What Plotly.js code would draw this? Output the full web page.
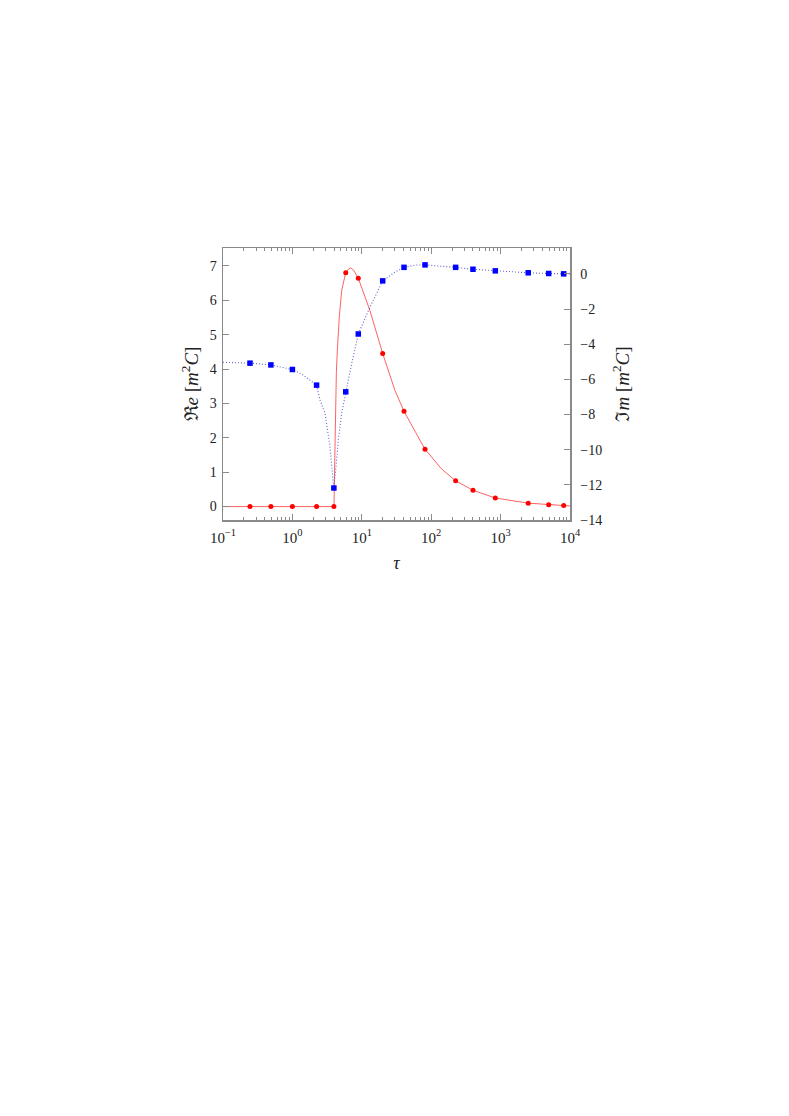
<!DOCTYPE html>
<html>
<head>
<meta charset="utf-8">
<script src="https://cdn.plot.ly/plotly-3.0.1.min.js"></script>
<style>
  body { margin: 0; background: #fff; }
  #grafico { width: 789px; height: 1116px; }
</style>
</head>
<body>
<div id="grafico"></div>
<script>
// puntos marcados (tau compartido)
const tauPuntos = [0.245, 0.49, 1.0, 2.23, 3.96, 5.87, 8.9, 20, 40.6, 81.5, 225, 400, 839, 2500, 4930, 8110];
const rePuntos = [0, 0, 0, 0, 0, 6.80, 6.64, 4.45, 2.77, 1.67, 0.75, 0.475, 0.25, 0.10, 0.05, 0.03];
const imPuntos = [-5.08, -5.18, -5.44, -6.33, -12.18, -6.71, -3.42, -0.40, 0.37, 0.51, 0.37, 0.26, 0.17, 0.06, 0.02, 0.0];

// curvas
const tauRe = [0.1, 0.245, 0.49, 1, 2.23, 3.98, 4.03, 4.1, 4.2, 4.3, 4.44, 4.74, 5.13, 5.86, 6.4, 6.92, 7.6, 8.9, 13.1, 20, 30, 40.6, 60, 81.5, 140, 225, 400, 839, 2500, 4930, 8110, 10000];
const reCurva = [0, 0, 0, 0, 0, 0, 0.8, 1.8, 2.9, 3.9, 4.54, 5.51, 6.28, 6.80, 6.90, 6.94, 6.88, 6.64, 5.70, 4.45, 3.38, 2.77, 2.15, 1.67, 1.1, 0.75, 0.475, 0.25, 0.10, 0.05, 0.03, 0.02];

const tauIm = [0.1, 0.245, 0.49, 1.0, 1.44, 2.22, 2.5, 2.95, 3.48, 3.77, 3.94, 4.25, 4.59, 5.13, 5.88, 7.15, 8.9, 13.1, 20, 30, 40.6, 60, 81.5, 140, 225, 400, 839, 2500, 4930, 8110, 10000];
const imCurva = [-5.03, -5.08, -5.18, -5.44, -5.76, -6.33, -7.18, -7.93, -9.82, -11.14, -12.18, -10.96, -9.44, -7.93, -6.71, -5.10, -3.42, -1.89, -0.40, 0.1, 0.37, 0.5, 0.51, 0.45, 0.37, 0.26, 0.17, 0.06, 0.02, 0.0, 0.0];

// etiquetas del eje tau
const tauTicks = [0.1, 1, 10, 100, 1000, 10000];
const tauEtiquetas = ['10<sup>−1</sup>', '10<sup>0</sup>', '10<sup>1</sup>', '10<sup>2</sup>', '10<sup>3</sup>', '10<sup>4</sup>'];

const familia = '"Liberation Serif", "Times New Roman", "DejaVu Serif", serif';
const fuente = { family: familia, size: 14, color: '#222' };
const gris = '#8a8a8a';

const data = [
    {
        x: tauRe, y: reCurva, mode: 'lines', type: 'scatter',
        line: { color: 'rgba(255,70,70,0.85)', width: 1 }, hoverinfo: 'skip'
    },
    {
        x: tauIm, y: imCurva, yaxis: 'y2', mode: 'lines', type: 'scatter',
        line: { color: 'rgba(60,60,200,0.8)', width: 1.1, dash: '1px,2px' }, hoverinfo: 'skip'
    },
    {
        x: tauPuntos, y: rePuntos, mode: 'markers', type: 'scatter',
        marker: { color: '#ff0000', size: 5, symbol: 'circle' }
    },
    {
        x: tauPuntos, y: imPuntos, yaxis: 'y2', mode: 'markers', type: 'scatter',
        marker: { color: '#0000ff', size: 5.5, symbol: 'square' }
    }
];

const layout = {
    width: 789,
    height: 1116,
    showlegend: false,
    paper_bgcolor: '#fff',
    plot_bgcolor: '#fff',
    margin: { l: 223, r: 219, t: 248, b: 596 },
    font: fuente,
    xaxis: {
        type: 'log',
        range: [-1, 4],
        tickvals: tauTicks,
        ticktext: tauEtiquetas,
        showgrid: false,
        zeroline: false,
        showline: true,
        linecolor: gris,
        linewidth: 1.5,
        mirror: 'ticks',
        ticks: 'inside',
        ticklen: 6,
        tickcolor: gris,
        ticklabelstandoff: 3,
        minor: { ticks: 'inside', ticklen: 3, tickcolor: gris, dtick: 'D1', showgrid: false },
        tickfont: { family: familia, size: 15, color: '#222' },
        title: { text: '<i>τ</i>', font: { family: familia, size: 18, color: '#222' }, standoff: 12 }
    },
    yaxis: {
        range: [-0.39, 7.52],
        dtick: 1,
        showgrid: false,
        zeroline: false,
        showline: true,
        linecolor: gris,
        linewidth: 1.5,
        ticks: 'inside',
        ticklen: 6,
        tickcolor: gris,
        ticklabelstandoff: 2,
        tickfont: fuente,
        title: { text: 'ℜ<i>e</i> [<i>m</i><sup>2</sup><i>C</i>]', font: { family: familia, size: 19, color: '#222' }, standoff: 6 }
    },
    yaxis2: {
        overlaying: 'y',
        side: 'right',
        range: [-14, 1.47],
        dtick: 2,
        showgrid: false,
        zeroline: false,
        showline: true,
        linecolor: gris,
        linewidth: 1.5,
        ticks: 'inside',
        ticklen: 6,
        tickcolor: gris,
        ticklabelstandoff: 6,
        tickfont: fuente,
        title: { text: 'ℑ<i>m</i> [<i>m</i><sup>2</sup><i>C</i>]', font: { family: familia, size: 19, color: '#222' }, standoff: 14 }
    }
};

Plotly.newPlot('grafico', data, layout, { staticPlot: true });
</script>
</body>
</html>
